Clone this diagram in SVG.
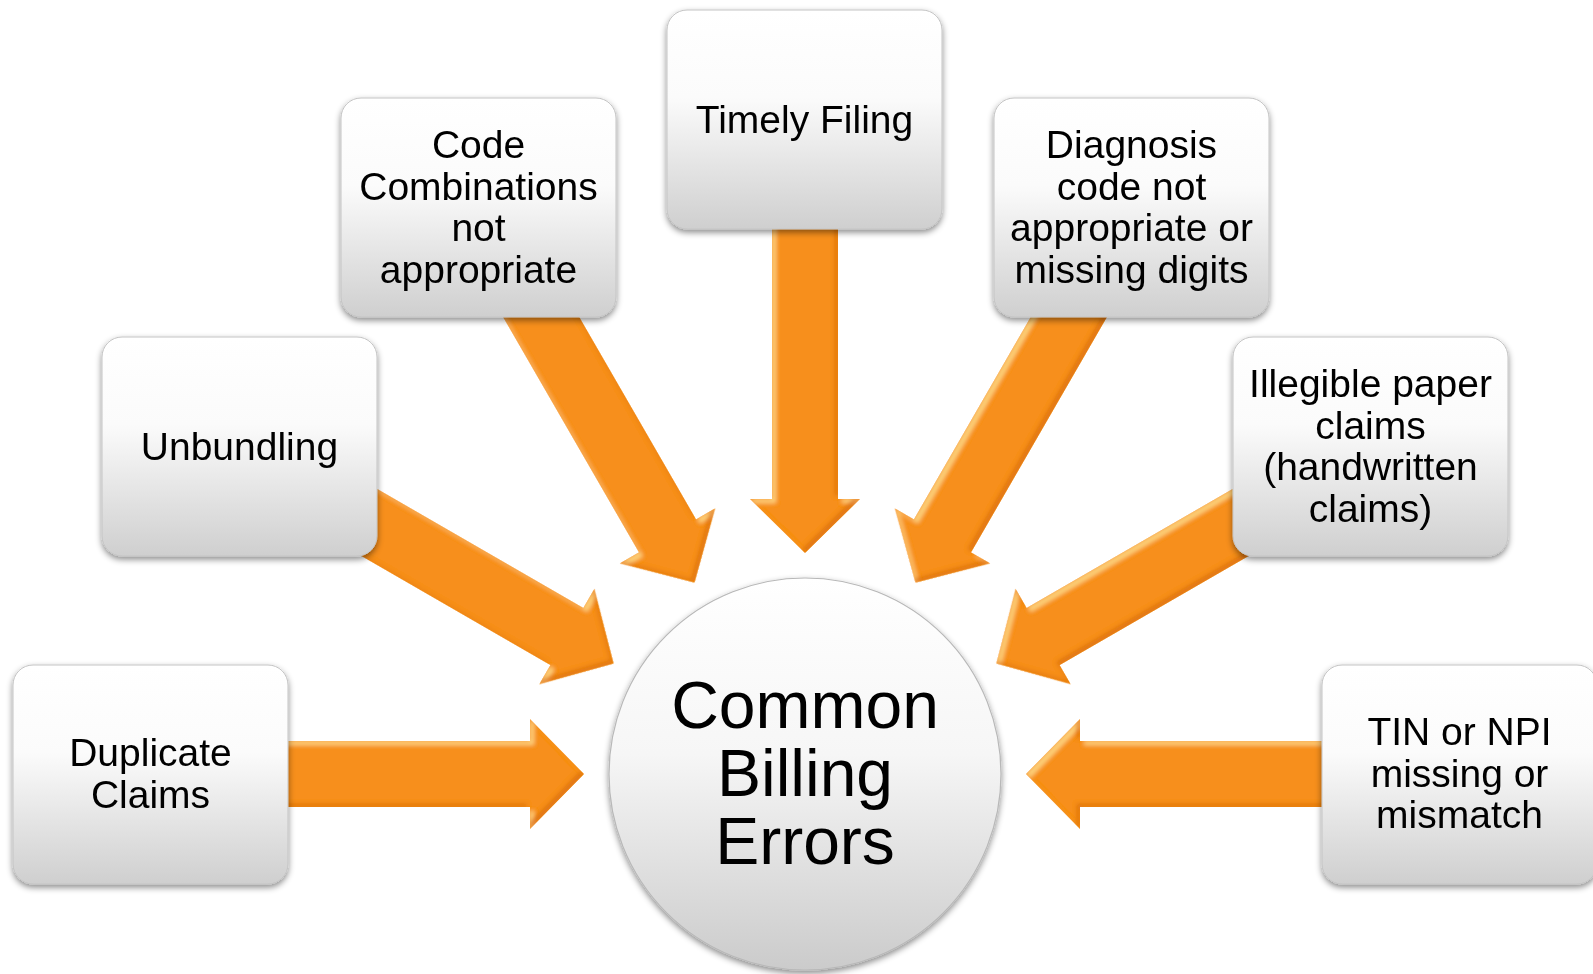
<svg xmlns="http://www.w3.org/2000/svg" width="1593" height="974" viewBox="0 0 1593 974">
<defs>
<style>
.box{fill:url(#boxg);stroke:#c4c4c4;stroke-width:1;filter:url(#sh)}
.lbl{font-family:"Liberation Sans",Arial,sans-serif;font-size:39px;fill:#000;text-anchor:middle}
.big{font-family:"Liberation Sans",Arial,sans-serif;font-size:66px;fill:#000;text-anchor:middle}
.arr{fill:#f78f1f}
</style>
<linearGradient id="boxg" x1="0" y1="0" x2="0" y2="1">
<stop offset="0" stop-color="#ffffff"/>
<stop offset="0.4" stop-color="#fbfbfb"/>
<stop offset="1" stop-color="#cfcfcf"/>
</linearGradient>
<linearGradient id="circg" x1="0" y1="0" x2="0" y2="1">
<stop offset="0" stop-color="#ffffff"/>
<stop offset="0.45" stop-color="#f6f6f6"/>
<stop offset="1" stop-color="#cbcbcb"/>
</linearGradient>
<filter id="sh" x="-10%" y="-10%" width="120%" height="125%">
<feDropShadow dx="0" dy="3" stdDeviation="3" flood-color="#000" flood-opacity="0.45"/>
</filter>
<filter id="bevel" x="-2%" y="-2%" width="104%" height="104%">
<feOffset in="SourceAlpha" dx="4" dy="4" result="o1"/>
<feComposite in="SourceAlpha" in2="o1" operator="out" result="e1"/>
<feGaussianBlur in="e1" stdDeviation="2" result="b1"/>
<feFlood flood-color="#fdd47c" result="f1"/>
<feComposite in="f1" in2="b1" operator="in" result="c1"/>
<feComposite in="c1" in2="SourceAlpha" operator="in" result="hl"/>
<feOffset in="SourceAlpha" dx="-3" dy="-3" result="o2"/>
<feComposite in="SourceAlpha" in2="o2" operator="out" result="e2"/>
<feGaussianBlur in="e2" stdDeviation="2" result="b2"/>
<feFlood flood-color="#d96e0c" result="f2"/>
<feComposite in="f2" in2="b2" operator="in" result="c2"/>
<feComposite in="c2" in2="SourceAlpha" operator="in" result="dk"/>
<feMerge><feMergeNode in="SourceGraphic"/><feMergeNode in="hl"/><feMergeNode in="dk"/></feMerge>
</filter>
<path id="arrow" d="M0,0 L-54,-55 L-54,-33 L-420,-33 L-420,33 L-54,33 L-54,55 Z"/>
</defs>
<rect width="1593" height="974" fill="#ffffff"/>
<g id="connectors" filter="url(#bevel)">
<use href="#arrow" class="arr" transform="translate(805,774) rotate(0) translate(-221,0)"/>
<use href="#arrow" class="arr" transform="translate(805,774) rotate(30) translate(-221,0)"/>
<use href="#arrow" class="arr" transform="translate(805,774) rotate(60) translate(-221,0)"/>
<use href="#arrow" class="arr" transform="translate(805,774) rotate(90) translate(-221,0)"/>
<use href="#arrow" class="arr" transform="translate(805,774) rotate(120) translate(-221,0)"/>
<use href="#arrow" class="arr" transform="translate(805,774) rotate(150) translate(-221,0)"/>
<use href="#arrow" class="arr" transform="translate(805,774) rotate(180) translate(-221,0)"/>
</g>
<g id="center">
<circle cx="805" cy="774" r="196" fill="url(#circg)" stroke="#b8b8b8" stroke-width="1.2" filter="url(#sh)"/>
<text class="big" x="805" y="728">Common</text>
<text class="big" x="805" y="796">Billing</text>
<text class="big" x="805" y="864">Errors</text>
</g>
<g id="duplicate-claims">
<rect class="box" x="13" y="665" width="275" height="219" rx="20"/>
<text class="lbl" x="150.5" y="766">Duplicate</text>
<text class="lbl" x="150.5" y="807.5">Claims</text>
</g>
<g id="unbundling">
<rect class="box" x="102" y="337" width="275" height="219" rx="20"/>
<text class="lbl" x="239.5" y="460">Unbundling</text>
</g>
<g id="code-combinations">
<rect class="box" x="341" y="98" width="275" height="219" rx="20"/>
<text class="lbl" x="478.5" y="158">Code</text>
<text class="lbl" x="478.5" y="199.5">Combinations</text>
<text class="lbl" x="478.5" y="241">not</text>
<text class="lbl" x="478.5" y="282.5">appropriate</text>
</g>
<g id="timely-filing">
<rect class="box" x="667" y="10" width="275" height="219" rx="20"/>
<text class="lbl" x="804.5" y="133">Timely Filing</text>
</g>
<g id="diagnosis-code">
<rect class="box" x="994" y="98" width="275" height="219" rx="20"/>
<text class="lbl" x="1131.5" y="158">Diagnosis</text>
<text class="lbl" x="1131.5" y="199.5">code not</text>
<text class="lbl" x="1131.5" y="241">appropriate or</text>
<text class="lbl" x="1131.5" y="282.5">missing digits</text>
</g>
<g id="illegible-claims">
<rect class="box" x="1233" y="337" width="275" height="219" rx="20"/>
<text class="lbl" x="1370.5" y="397">Illegible paper</text>
<text class="lbl" x="1370.5" y="438.5">claims</text>
<text class="lbl" x="1370.5" y="480">(handwritten</text>
<text class="lbl" x="1370.5" y="521.5">claims)</text>
</g>
<g id="tin-npi">
<rect class="box" x="1322" y="665" width="275" height="219" rx="20"/>
<text class="lbl" x="1459.5" y="745">TIN or NPI</text>
<text class="lbl" x="1459.5" y="786.5">missing or</text>
<text class="lbl" x="1459.5" y="828">mismatch</text>
</g>
</svg>
